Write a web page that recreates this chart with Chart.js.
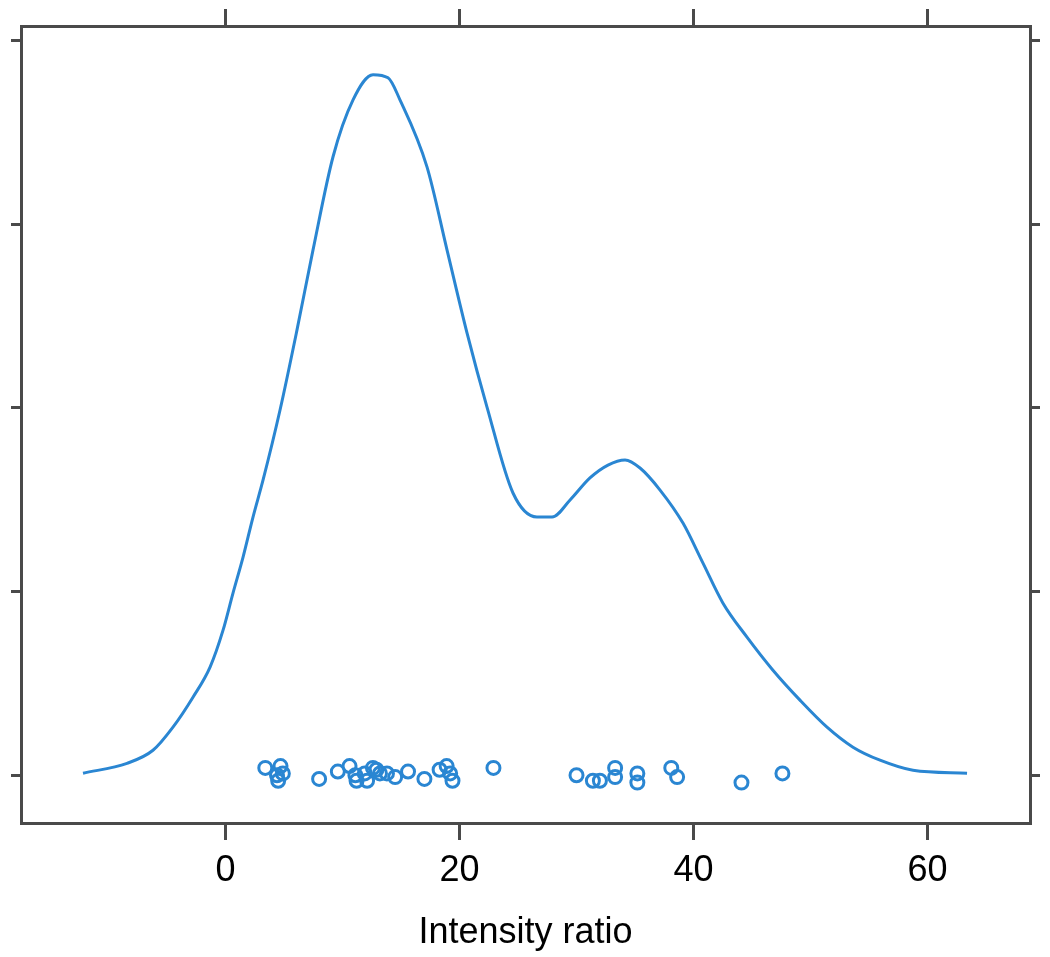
<!DOCTYPE html>
<html>
<head>
<meta charset="utf-8">
<script src="https://cdn.jsdelivr.net/npm/chart.js@4/dist/chart.umd.min.js"></script>
<style>
  html, body { margin: 0; padding: 0; background: #fff; }
  #wrap { width: 1050px; height: 957px; }
</style>
</head>
<body>
<div id="wrap"><canvas id="chart" width="1050" height="957"></canvas></div>
<script>
// density curve (x = intensity ratio, y = density)
const curveX = [-12.18, -8.42, -6.20, -4.49, -2.78, -1.32, -0.21, 0.64, 1.50, 2.35, 3.21, 4.66, 6.11, 7.48, 9.19, 10.90, 12.61, 13.89, 14.91, 17.22, 18.93, 20.64, 22.35, 24.57, 26.62, 27.91, 29.45, 31.15, 32.69, 34.15, 35.43, 37.14, 39.10, 40.81, 42.52, 44.57, 46.79, 49.10, 51.41, 53.63, 55.94, 58.76, 63.38];
const curveY = [0.00011, 0.00065, 0.00136, 0.00262, 0.00425, 0.00589, 0.00790, 0.00992, 0.01188, 0.01406, 0.01608, 0.01989, 0.02425, 0.02861, 0.03368, 0.03678, 0.03815, 0.03798, 0.03678, 0.03313, 0.02861, 0.02409, 0.02005, 0.01537, 0.01406, 0.01406, 0.01499, 0.01619, 0.01689, 0.01717, 0.01673, 0.01553, 0.01373, 0.01155, 0.00937, 0.00752, 0.00572, 0.00409, 0.00262, 0.00153, 0.00082, 0.00027, 0.00011];

// observations, jittered around zero
const obsX = [3.4, 4.7, 4.4, 4.9, 4.5, 8.0, 9.6, 10.6, 11.1, 11.2, 11.9, 12.1, 12.6, 12.9, 13.2, 13.8, 14.5, 15.6, 17.0, 18.3, 18.9, 19.2, 19.4, 22.9, 30.0, 31.4, 32.0, 33.3, 33.3, 35.2, 35.2, 38.1, 38.6, 44.1, 47.6];
const obsY = [0.0004, 0.0005, 0.0000, 0.0001, -0.0003, -0.0002, 0.0002, 0.0005, 0.0000, -0.0003, 0.0001, -0.0003, 0.0004, 0.0003, 0.0001, 0.0001, -0.0001, 0.0002, -0.0002, 0.0003, 0.0005, 0.0001, -0.0003, 0.0004, 0.0000, -0.0003, -0.0003, 0.0004, -0.0001, 0.0001, -0.0004, 0.0004, -0.0001, -0.0004, 0.0001];

const xTicks = [0, 20, 40, 60];
const yTicks = [0, 0.01, 0.02, 0.03, 0.04];
const xLabel = 'Intensity ratio';

const boxColor = '#4a4a4a';
const blue = '#2a86d2';
const font = 'Liberation Sans, Arial, sans-serif';

const ctx = document.getElementById('chart').getContext('2d');

function fixTicks(list) {
  return axis => { axis.ticks = list.map(v => ({ value: v })); };
}

const frame = {
  display: true,
  color: boxColor,
  width: 3
};

new Chart(ctx, {
  data: {
    datasets: [
      {
        type: 'line',
        data: curveX.map((x, i) => ({ x: x, y: curveY[i] })),
        borderColor: blue,
        borderWidth: 3,
        pointRadius: 0,
        cubicInterpolationMode: 'monotone',
        fill: false
      },
      {
        type: 'scatter',
        data: obsX.map((x, i) => ({ x: x, y: obsY[i] })),
        borderColor: blue,
        backgroundColor: 'rgba(0,0,0,0)',
        borderWidth: 3,
        pointRadius: 6.5,
        pointHoverRadius: 6.5
      }
    ]
  },
  options: {
    responsive: false,
    animation: false,
    events: [],
    layout: { padding: 0 },
    plugins: {
      legend: { display: false },
      tooltip: { enabled: false }
    },
    scales: {
      x: {
        type: 'linear',
        position: 'bottom',
        min: -17.48,
        max: 68.76,
        afterBuildTicks: fixTicks(xTicks),
        afterFit: axis => { axis.height = 134; },
        border: frame,
        grid: { drawOnChartArea: false, color: boxColor, lineWidth: 3, tickLength: 17 },
        ticks: {
          color: '#000',
          padding: 9,
          maxRotation: 0,
          font: { family: font, size: 36 }
        },
        title: {
          display: true,
          text: xLabel,
          color: '#000',
          padding: { top: 0, bottom: 2 },
          font: { family: font, size: 36 }
        }
      },
      xTop: {
        type: 'linear',
        position: 'top',
        min: -17.48,
        max: 68.76,
        afterBuildTicks: fixTicks(xTicks),
        afterFit: axis => { axis.height = 26; },
        border: frame,
        grid: { drawOnChartArea: false, color: boxColor, lineWidth: 3, tickLength: 17 },
        ticks: { display: false }
      },
      y: {
        type: 'linear',
        position: 'left',
        min: -0.0026,
        max: 0.0408,
        afterBuildTicks: fixTicks(yTicks),
        afterFit: axis => { axis.width = 21; },
        border: frame,
        grid: { drawOnChartArea: false, color: boxColor, lineWidth: 3, tickLength: 10 },
        ticks: { display: false }
      },
      yRight: {
        type: 'linear',
        position: 'right',
        min: -0.0026,
        max: 0.0408,
        afterBuildTicks: fixTicks(yTicks),
        afterFit: axis => { axis.width = 20; },
        border: frame,
        grid: { drawOnChartArea: false, color: boxColor, lineWidth: 3, tickLength: 10 },
        ticks: { display: false }
      }
    }
  }
});
</script>
</body>
</html>
